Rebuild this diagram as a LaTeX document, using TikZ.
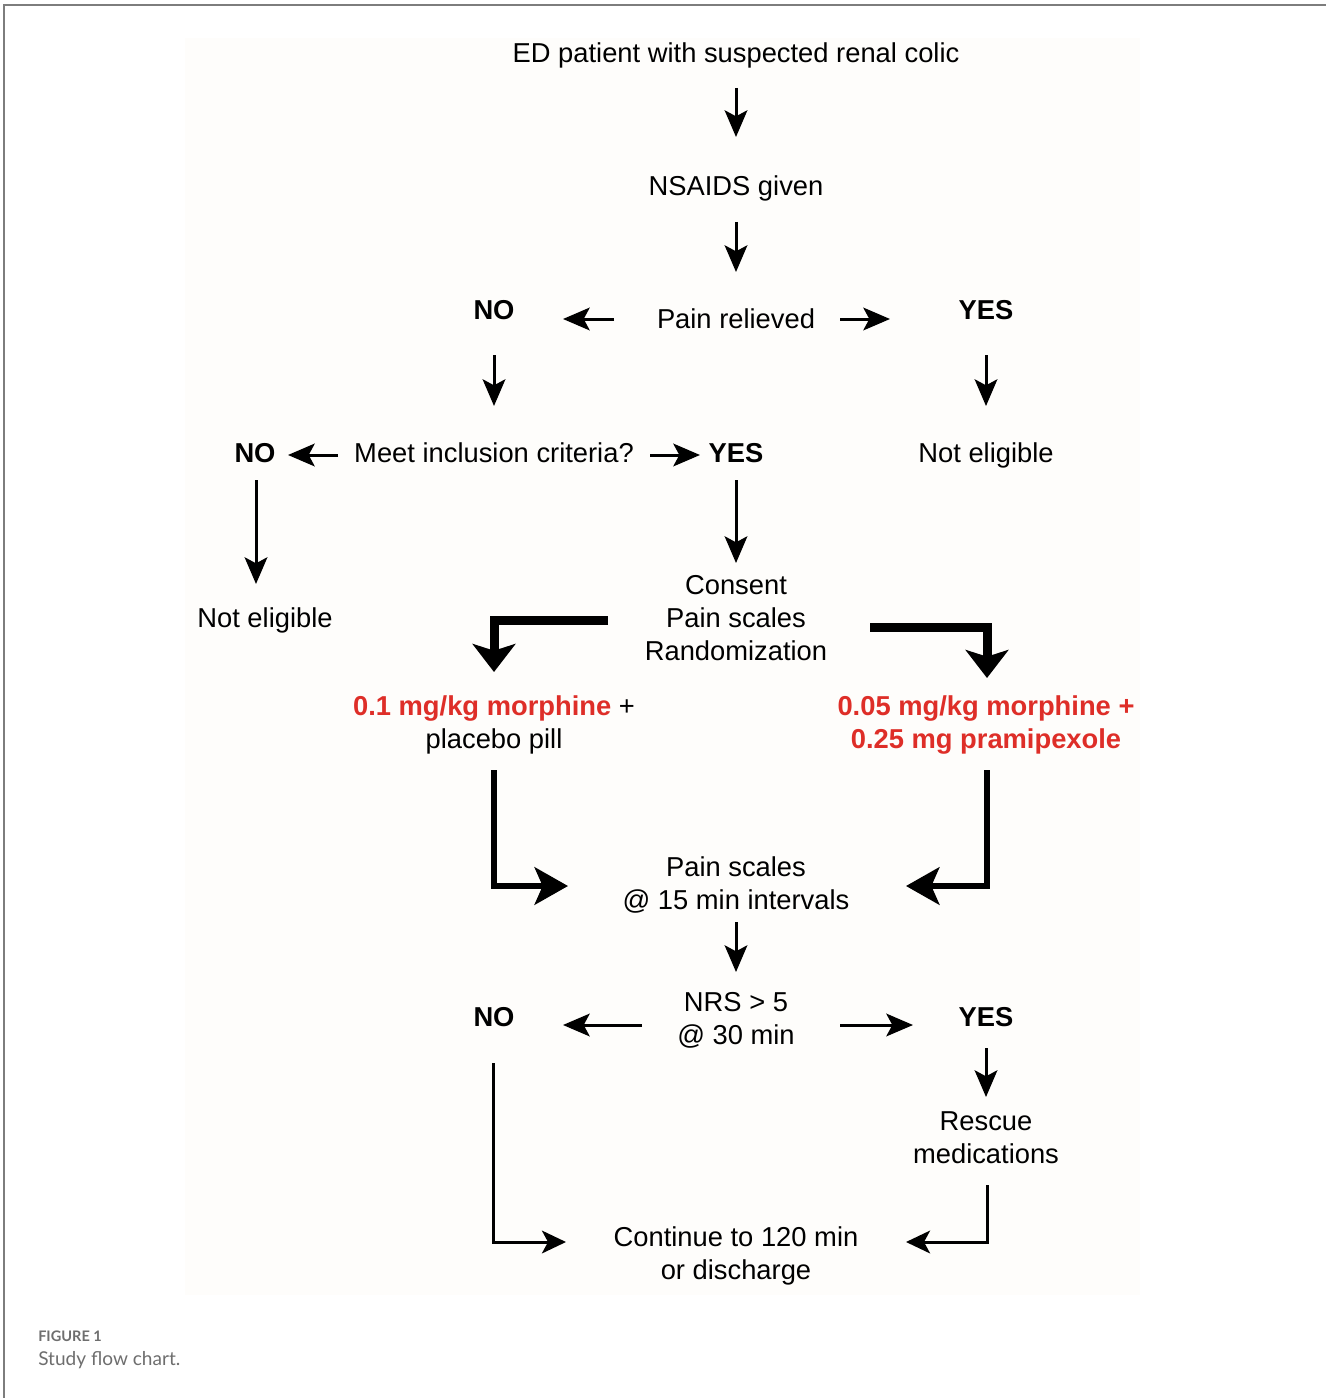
\documentclass[tikz,border=0pt]{standalone}
\usepackage{fontspec}
\setmainfont{Liberation Sans}
\newfontfamily\capfont{Lato}
\usetikzlibrary{calc,arrows.meta}
\definecolor{myred}{RGB}{222,46,40}
\definecolor{framegray}{RGB}{125,125,125}
\definecolor{capgray}{RGB}{110,110,110}
\definecolor{bgtint}{RGB}{254,253,251}
\tikzset{
  txt/.style={inner sep=0pt, anchor=center, align=center, font=\fontsize{20.5}{24.8}\selectfont},
  btxt/.style={txt, font=\fontsize{20.5}{24.8}\selectfont\bfseries},
  sarrow/.style={line width=2.25pt, -{Stealth[length=20pt,width=17pt,inset=4.5pt]}},
  tarrow/.style={line width=6.75pt, line join=miter, -{Stealth[length=21pt,width=32pt,inset=5pt]}},
  marrow/.style={line width=4.5pt, line join=miter, -{Stealth[length=25pt,width=28pt,inset=6pt]}},
  larrow/.style={line width=2.25pt, line join=miter, -{Stealth[length=18pt,width=17pt,inset=4.5pt]}},
}
\begin{document}
\begin{tikzpicture}[x=0.75pt,y=-0.75pt]
\useasboundingbox (0,0) rectangle (1326,1398);
\fill[bgtint] (185,38) rectangle (1140,1295);
\draw[framegray, line width=1.2pt] (4,1398) -- (4,5) -- (1326,5);

\node[txt] (ed) at (736,55) {ED patient with suspected renal colic};
\node[txt] (ns) at (736,188) {NSAIDS given};
\node[txt] (pr) at (736,319) {Pain relieved};
\node[btxt] (no1) at (494,310) {NO};
\node[btxt] (yes1) at (986,310) {YES};
\node[txt] (mic) at (494,453) {Meet inclusion criteria?};
\node[btxt] (no2) at (255,453) {NO};
\node[btxt] (yes2) at (736,453) {YES};
\node[txt] (ne1) at (986,455) {Not eligible};
\node[txt] (ne2) at (265,620) {Not eligible};
\node[txt] (cons) at (736,618) {Consent\\Pain scales\\Randomization};
\node[txt] (m1) at (494,725) {\textcolor{myred}{\bfseries 0.1 mg/kg morphine} +\\placebo pill};
\node[txt, text=myred, font=\fontsize{20.5}{24.8}\selectfont\bfseries] (m2) at (986,725) {0.05 mg/kg morphine +\\0.25 mg pramipexole};
\node[txt] (ps) at (736,885) {Pain scales\\@ 15 min intervals};
\node[txt] (nrs) at (736,1020) {NRS > 5\\@ 30 min};
\node[btxt] (no3) at (494,1017) {NO};
\node[btxt] (yes3) at (986,1017) {YES};
\node[txt] (resc) at (986,1138) {Rescue\\medications};
\node[txt] (cont) at (736,1256) {Continue to 120 min\\or discharge};

\node[anchor=base west, inner sep=0pt, text=capgray, font=\capfont\fontsize{10.9}{12}\selectfont\bfseries] (figlab) at (38,1341) {FIGURE 1};
\node[anchor=base west, inner sep=0pt, text=capgray, font=\capfont\fontsize{14.3}{16}\selectfont] (figcap) at (38,1365) {Study flow chart.};

% connectors
\draw[sarrow] ($(ed.center)+(0,33)$) -- ($(ns.center)+(0,-51)$);
\draw[sarrow] ($(ns.center)+(0,34)$) -- ($(pr.center)+(0,-47)$);
\draw[sarrow] ($(pr.center)+(-122,0)$) -- ($(no1.center)+(69,9)$);
\draw[sarrow] ($(pr.center)+(104,0)$) -- ($(yes1.center)+(-96,9)$);
\draw[sarrow] ($(no1.center)+(0,45)$) -- ($(mic.center)+(0,-47)$);
\draw[sarrow] ($(yes1.center)+(0,45)$) -- ($(ne1.center)+(0,-49)$);
\draw[sarrow] ($(mic.center)+(-156,2)$) -- ($(no2.center)+(33,2)$);
\draw[sarrow] ($(mic.center)+(156,2)$) -- ($(yes2.center)+(-36,2)$);
\draw[sarrow] ($(no2.center)+(1,27)$) -- ($(ne2.center)+(-9,-36)$);
\draw[sarrow] ($(yes2.center)+(0,27)$) -- ($(cons.center)+(0,-55)$);
\draw[tarrow] ($(cons.center)+(-128,2)$) -| ($(m1.center)+(0,-53)$);
\draw[tarrow] ($(cons.center)+(134,9)$) -| ($(m2.center)+(1,-47)$);
\draw[marrow] ($(m1.center)+(0,45)$) |- ($(ps.center)+(-168,1)$);
\draw[marrow] ($(m2.center)+(1,45)$) |- ($(ps.center)+(170,1)$);
\draw[sarrow] ($(ps.center)+(0,37)$) -- ($(nrs.center)+(0,-48)$);
\draw[sarrow] ($(nrs.center)+(-94,5)$) -- ($(no3.center)+(69,8)$);
\draw[sarrow] ($(nrs.center)+(104,5)$) -- ($(yes3.center)+(-73,8)$);
\draw[sarrow] ($(yes3.center)+(0,31)$) -- ($(resc.center)+(0,-41)$);
\draw[larrow] ($(no3.center)+(-1,46)$) |- ($(cont.center)+(-170,-14)$);
\draw[larrow] ($(resc.center)+(1,47)$) |- ($(cont.center)+(170,-14)$);
\end{tikzpicture}
\end{document}
